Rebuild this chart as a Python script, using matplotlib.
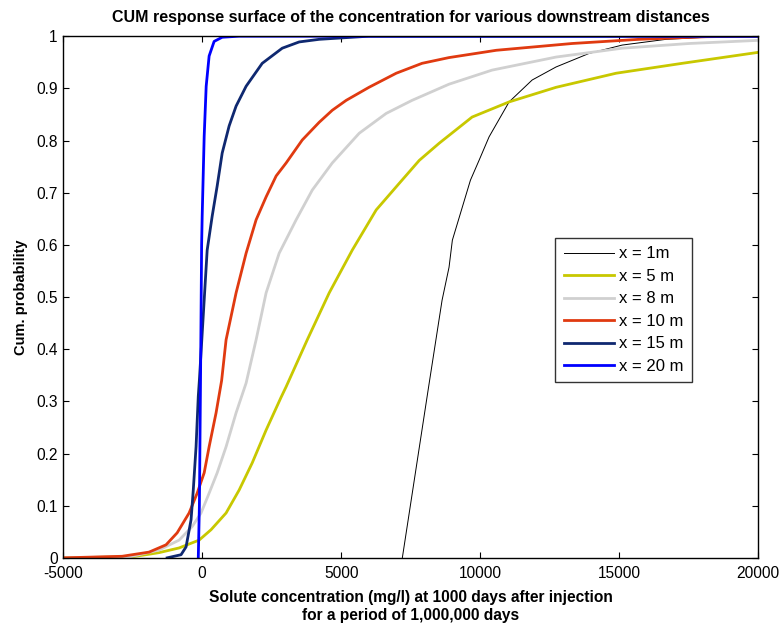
import matplotlib
matplotlib.use('Agg')
import matplotlib.pyplot as plt

plt.rcParams['font.family'] = ['Liberation Sans', 'DejaVu Sans']

# curves (concentration, cumulative probability)
x1_c = [7200, 8140, 8630, 8880, 9000, 9650, 9960, 10320, 11040, 11870, 12730, 13920, 15110, 16690, 18130, 20000]
x1_p = [0.0, 0.326, 0.494, 0.557, 0.609, 0.724, 0.762, 0.807, 0.874, 0.916, 0.941, 0.967, 0.983, 0.994, 0.998, 1.0]

x5_c = [-5000, -2520, -1550, -830, -110, 320, 860, 1330, 1800, 2300, 2840, 3020, 3780, 4570, 5400,
        6260, 7090, 7810, 8530, 9710, 11040, 12730, 14890, 17270, 20000]
x5_p = [0.0, 0.002, 0.01, 0.019, 0.034, 0.054, 0.086, 0.13, 0.182, 0.245, 0.308, 0.328, 0.418, 0.508, 0.59,
        0.667, 0.718, 0.762, 0.795, 0.845, 0.874, 0.902, 0.929, 0.948, 0.969]

x8_c = [-5000, -2600, -1550, -830, -360, -40, 250, 540, 860, 1220, 1580, 1940, 2300, 2770, 3380, 3960, 4680,
        5650, 6620, 7550, 8880, 10430, 12730, 15110, 17520, 20000]
x8_p = [0.0, 0.002, 0.015, 0.034, 0.06, 0.086, 0.124, 0.163, 0.213, 0.278, 0.335, 0.418, 0.508, 0.584, 0.648, 0.705, 0.757,
        0.814, 0.852, 0.877, 0.908, 0.935, 0.96, 0.977, 0.986, 0.992]

x10_c = [-5000, -2880, -2520, -1910, -1300, -900, -470, -180, 72, 250, 500, 700, 860, 1220, 1580, 1940, 2300, 2660,
         3020, 3600, 4210, 4680, 5180, 6000, 6980, 7910, 8880, 10580, 13310, 15720, 18130, 20000]
x10_p = [0.0, 0.003, 0.006, 0.011, 0.025, 0.048, 0.086, 0.124, 0.163, 0.213, 0.278, 0.34, 0.418, 0.508, 0.584, 0.648, 0.692, 0.732,
         0.757, 0.801, 0.835, 0.858, 0.877, 0.902, 0.929, 0.948, 0.959, 0.973, 0.986, 0.994, 0.999, 1.0]

x15_c = [-1260, -760, -580, -400, -320, -220, -140, -100, 72, 180, 360, 540, 720, 970, 1220, 1580, 2160, 2880,
         3490, 4210, 6000, 20000]
x15_p = [0.0, 0.006, 0.021, 0.073, 0.13, 0.213, 0.31, 0.341, 0.494, 0.59, 0.655, 0.713, 0.776, 0.828, 0.866, 0.904,
         0.948, 0.977, 0.989, 0.994, 1.0, 1.0]

x20_c = [-140, -100, -60, -20, 0, 72, 144, 250, 430, 720, 1330, 20000]
x20_p = [0.0, 0.1, 0.34, 0.6, 0.655, 0.808, 0.904, 0.962, 0.99, 0.998, 1.0, 1.0]

labels = ['x = 1m', 'x = 5 m', 'x = 8 m', 'x = 10 m', 'x = 15 m', 'x = 20 m']
colors = ['#000000', '#C8C800', '#D0D0D0', '#E03A10', '#0F2870', '#0000FF']
widths = [0.7, 2.0, 2.0, 2.0, 2.0, 2.0]

fig = plt.figure(figsize=(7.8, 6.24), dpi=100)
ax = fig.add_axes([0.081, 0.106, 0.891, 0.836])

curves = [(x1_c, x1_p), (x5_c, x5_p), (x8_c, x8_p), (x10_c, x10_p), (x15_c, x15_p), (x20_c, x20_p)]
for (xc, pc), lab, col, lw in zip(curves, labels, colors, widths):
    ax.plot(xc, pc, color=col, lw=lw, label=lab, solid_joinstyle='round')

ax.set_xlim(-5000, 20000)
ax.set_ylim(0, 1)
ax.set_xticks([-5000, 0, 5000, 10000, 15000, 20000])
ax.set_xticklabels(['-5000', '0', '5000', '10000', '15000', '20000'])
ax.set_yticks([0, 0.1, 0.2, 0.3, 0.4, 0.5, 0.6, 0.7, 0.8, 0.9, 1])
ax.set_yticklabels(['0', '0.1', '0.2', '0.3', '0.4', '0.5', '0.6', '0.7', '0.8', '0.9', '1'])
ax.tick_params(direction='in', top=True, right=True, labelsize=11.2, length=4, width=0.8)
ax.tick_params(axis='x', pad=6)
ax.tick_params(axis='y', pad=4)
for s in ax.spines.values():
    s.set_linewidth(1.0)

ax.set_title('CUM response surface of the concentration for various downstream distances',
             fontsize=11.5, fontweight='bold', pad=10)
ax.set_xlabel('Solute concentration (mg/l) at 1000 days after injection\nfor a period of 1,000,000 days',
              fontsize=11.2, fontweight='bold', labelpad=6, linespacing=1.25)
ax.set_ylabel('Cum. probability', fontsize=10.5, fontweight='bold', labelpad=6)

leg = ax.legend(loc='upper left', bbox_to_anchor=(0.708, 0.613), fontsize=12, frameon=True, fancybox=False,
                edgecolor='black', handlelength=3.0, borderpad=0.5, labelspacing=0.45, handletextpad=0.35,
                borderaxespad=0)
leg.get_frame().set_linewidth(1.0)
for line in leg.get_lines():
    line.set_linewidth(2.0 if line.get_color() != '#000000' else 0.7)

fig.savefig('out.png', dpi=100)
